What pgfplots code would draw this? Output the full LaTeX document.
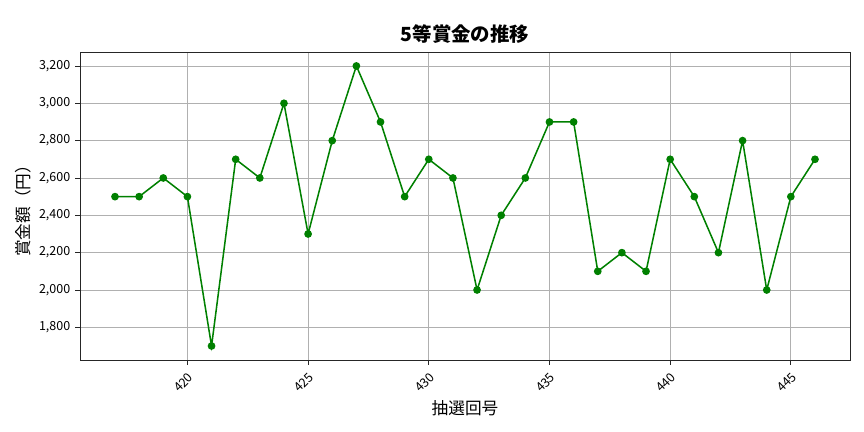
\documentclass[border=0pt]{standalone}
\usepackage{pgfplots}
\pgfplotsset{compat=1.18}
\usepackage{fontspec}
\setmainfont{Noto Sans CJK JP}
\definecolor{mgreen}{RGB}{0,128,0}
\definecolor{gridgray}{RGB}{176,176,176}
\begin{document}
\begin{tikzpicture}
\path[use as bounding box] (0,0) rectangle (622.08pt,311.04pt);
\begin{axis}[
  at={(57.6pt,51.84pt)}, anchor=south west,
  scale only axis, width=554.4pt, height=221.8pt,
  xmin=415.55, xmax=447.45, ymin=1625, ymax=3275,
  xtick={420,425,430,435,440,445},
  ytick={1800,2000,2200,2400,2600,2800,3000,3200},
  scaled ticks=false,
  yticklabel style={/pgf/number format/.cd,1000 sep={,}, assume math mode=true},
  xticklabel style={rotate=45, anchor=north east, font=\fontsize{9}{10}\selectfont, /pgf/number format/.cd, 1000 sep={}, assume math mode=true},
  tick label style={font=\fontsize{9}{10}\selectfont},
  grid=major,
  grid style={gridgray, line width=0.6pt},
  axis line style={black!85, line width=0.6pt},
  tick align=outside, xtick pos=bottom, ytick pos=left,
  major tick length=3.5pt,
  tick style={black!85, line width=0.6pt},
]
\addplot[mgreen, line width=1.1pt, mark=*, mark size=2.2pt, mark options={fill=mgreen, draw=mgreen}] coordinates {
(417,2500)(418,2500)(419,2600)(420,2500)(421,1700)(422,2700)(423,2600)(424,3000)(425,2300)(426,2800)
(427,3200)(428,2900)(429,2500)(430,2700)(431,2600)(432,2000)(433,2400)(434,2600)(435,2900)(436,2900)
(437,2100)(438,2200)(439,2100)(440,2700)(441,2500)(442,2200)(443,2800)(444,2000)(445,2500)(446,2700)
};
\end{axis}
\node[font=\fontsize{14}{16}\selectfont\bfseries] at (334.8pt,286.8pt) {5等賞金の推移};
\node[font=\fontsize{12}{14}\selectfont] at (334.8pt,17.3pt) {抽選回号};
\node[font=\fontsize{12}{14}\selectfont, rotate=90] at (16.5pt,162pt) {賞金額（円）};
\end{tikzpicture}
\end{document}
